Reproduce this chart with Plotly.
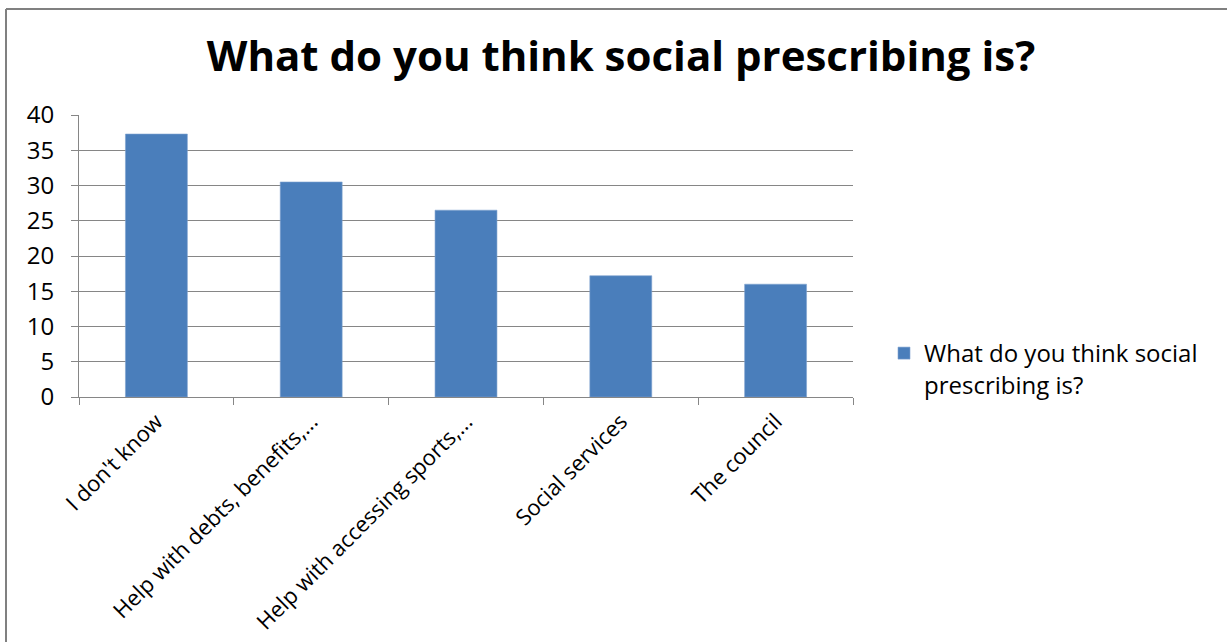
import plotly.graph_objects as go

# Survey answers and their counts
categories = [
    "I don't know",
    "Help with debts, benefits,...",
    "Help with accessing sports,...",
    "Social services",
    "The council",
]
counts = [37.3, 30.5, 26.5, 17.2, 16.0]
series_name = "What do you think social prescribing is?"
y_ticks = [0, 5, 10, 15, 20, 25, 30, 35, 40]

W, H = 1227, 642
# plot area in pixels
L, R, T, B = 79, 853, 115, 397

FONT = "Open Sans"
GRID = "#868686"

fig = go.Figure(
    go.Bar(
        x=categories,
        y=counts,
        name="What do you think social<br>prescribing is?",
        marker=dict(color="#4A7EBB", line=dict(color="#7FA3D0", width=0.6)),
        showlegend=True,
    )
)

def px_x(p):
    return (p - L) / (R - L)

def px_y(p):
    return (B - p) / (B - T)

# outer frame around the chart
frame = dict(type="line", xref="paper", yref="paper",
             line=dict(color="#808080", width=2))
fig.add_shape(**frame, x0=px_x(6), x1=px_x(1240), y0=px_y(9), y1=px_y(9))
fig.add_shape(**frame, x0=px_x(6), x1=px_x(6), y0=px_y(9), y1=px_y(660))

fig.update_layout(
    width=W,
    height=H,
    margin=dict(l=L, r=W - R, t=T, b=H - B, pad=0, autoexpand=False),
    paper_bgcolor="white",
    plot_bgcolor="white",
    bargap=0.6,
    font=dict(family=FONT, size=24, color="#000000"),
    title=dict(
        text="<b>" + series_name + "</b>",
        font=dict(family=FONT, size=42, color="#000000"),
        x=621 / W,
        xanchor="center",
        xref="container",
        y=1 - 56 / H,
        yanchor="middle",
        yref="container",
    ),
    legend=dict(
        x=px_x(884),
        xanchor="left",
        y=px_y(331),
        yanchor="top",
        valign="top",
        font=dict(family=FONT, size=24, color="#000000"),
        bgcolor="rgba(0,0,0,0)",
        itemwidth=30,
    ),
    xaxis=dict(
        type="category",
        automargin=False,
        tickangle=-45,
        showgrid=False,
        showline=True,
        linecolor=GRID,
        linewidth=1,
        ticks="outside",
        tickson="boundaries",
        ticklen=7,
        tickcolor=GRID,
        ticklabelstandoff=2,
        tickfont=dict(family=FONT, size=22, color="#000000"),
        fixedrange=True,
    ),
    yaxis=dict(
        automargin=False,
        range=[0, 40],
        tickvals=y_ticks,
        showgrid=True,
        gridcolor=GRID,
        gridwidth=1,
        showline=True,
        linecolor=GRID,
        linewidth=1,
        ticks="outside",
        ticklen=7,
        tickcolor=GRID,
        ticklabelstandoff=12,
        tickfont=dict(family=FONT, size=24, color="#000000"),
        zeroline=False,
        fixedrange=True,
    ),
)

fig.write_html("out.html")
